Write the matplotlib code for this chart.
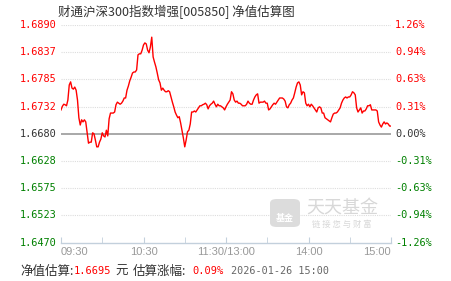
import matplotlib
matplotlib.use("Agg")
import matplotlib.pyplot as plt
from matplotlib.patches import FancyBboxPatch

plt.rcParams['font.family'] = ['Noto Sans CJK SC', 'DejaVu Sans']

title = "财通沪深300指数增强[005850] 净值估算图"
base_nav = 1.6680
est_nav = "1.6695"
est_pct = "0.09%"
stamp = "2026-01-26 15:00"

# 每分钟估算净值 (09:30 - 15:00, 共241个点)
nav = [
    1.6726, 1.6733, 1.6737, 1.6736, 1.6734, 1.6745, 1.6774, 1.6780, 1.6768, 1.6766,
    1.6770, 1.6764, 1.6745, 1.6711, 1.6697, 1.6707, 1.6703, 1.6707, 1.6703, 1.6682,
    1.6662, 1.6664, 1.6664, 1.6682, 1.6680, 1.6668, 1.6655, 1.6655, 1.6664, 1.6670,
    1.6682, 1.6676, 1.6674, 1.6687, 1.6676, 1.6709, 1.6720, 1.6720, 1.6720, 1.6722,
    1.6736, 1.6741, 1.6739, 1.6737, 1.6739, 1.6743, 1.6749, 1.6749, 1.6764, 1.6772,
    1.6782, 1.6789, 1.6797, 1.6799, 1.6799, 1.6803, 1.6832, 1.6834, 1.6834, 1.6841,
    1.6851, 1.6855, 1.6853, 1.6841, 1.6836, 1.6847, 1.6866, 1.6828, 1.6818, 1.6809,
    1.6797, 1.6784, 1.6778, 1.6764, 1.6768, 1.6764, 1.6761, 1.6761, 1.6763, 1.6761,
    1.6751, 1.6741, 1.6732, 1.6722, 1.6716, 1.6711, 1.6713, 1.6701, 1.6687, 1.6672,
    1.6655, 1.6668, 1.6684, 1.6687, 1.6699, 1.6722, 1.6722, 1.6724, 1.6722, 1.6726,
    1.6730, 1.6734, 1.6734, 1.6736, 1.6737, 1.6739, 1.6736, 1.6728, 1.6734, 1.6737,
    1.6739, 1.6743, 1.6737, 1.6732, 1.6737, 1.6734, 1.6734, 1.6732, 1.6730, 1.6726,
    1.6732, 1.6737, 1.6741, 1.6745, 1.6761, 1.6757, 1.6745, 1.6741, 1.6743, 1.6739,
    1.6739, 1.6737, 1.6734, 1.6734, 1.6734, 1.6737, 1.6743, 1.6739, 1.6737, 1.6737,
    1.6745, 1.6751, 1.6755, 1.6757, 1.6739, 1.6741, 1.6741, 1.6741, 1.6743, 1.6739,
    1.6739, 1.6726, 1.6728, 1.6732, 1.6736, 1.6739, 1.6737, 1.6741, 1.6745, 1.6749,
    1.6749, 1.6749, 1.6747, 1.6743, 1.6732, 1.6730, 1.6736, 1.6739, 1.6745, 1.6749,
    1.6759, 1.6770, 1.6778, 1.6780, 1.6774, 1.6755, 1.6761, 1.6759, 1.6739, 1.6734,
    1.6737, 1.6732, 1.6737, 1.6734, 1.6730, 1.6726, 1.6722, 1.6730, 1.6732, 1.6730,
    1.6720, 1.6720, 1.6711, 1.6709, 1.6707, 1.6705, 1.6703, 1.6711, 1.6718, 1.6720,
    1.6720, 1.6722, 1.6726, 1.6730, 1.6739, 1.6745, 1.6749, 1.6751, 1.6749, 1.6751,
    1.6751, 1.6755, 1.6761, 1.6759, 1.6755, 1.6730, 1.6722, 1.6726, 1.6730, 1.6720,
    1.6724, 1.6724, 1.6728, 1.6734, 1.6734, 1.6736, 1.6726, 1.6726, 1.6726, 1.6726,
    1.6724, 1.6703, 1.6697, 1.6693, 1.6699, 1.6703, 1.6699, 1.6701, 1.6699, 1.6695,
    1.6695,
]
minutes = list(range(len(nav)))

y_levels = [1.6890, 1.6837, 1.6785, 1.6732, 1.6680, 1.6628, 1.6575, 1.6523, 1.6470]
y_left = ["1.6890", "1.6837", "1.6785", "1.6732", "1.6680", "1.6628", "1.6575", "1.6523", "1.6470"]
y_right = ["1.26%", "0.94%", "0.63%", "0.31%", "0.00%", "-0.31%", "-0.63%", "-0.94%", "-1.26%"]

x_major = [0, 60, 120, 180, 240]
x_minor = [30, 90, 150, 210]
x_labels = ["09:30", "10:30", "11:30/13:00", "14:00", "15:00"]

W, H = 451, 281
fig = plt.figure(figsize=(W / 100, H / 100), dpi=100)
ax = fig.add_axes([61 / W, 1 - 243 / H, 330 / W, (243 - 24.7) / H])

RED = "#ff0000"
GREEN = "#008000"
DARK = "#333333"

# 网格线
for v in y_levels:
    if v == base_nav:
        ax.axhline(v, color="#999999", lw=1.2, zorder=2)
    elif v == y_levels[-1]:
        continue
    else:
        ax.axhline(v, color="#dddddd", lw=0.8, ls=(0, (1, 1)), zorder=1)

ax.plot(minutes, nav, color=RED, lw=1.0, zorder=3)

ax.set_xlim(0, 240)
ax.set_ylim(y_levels[-1], y_levels[0])

for s in ["top", "left", "right"]:
    ax.spines[s].set_visible(False)
ax.spines["bottom"].set_color("#c3d0dc")
ax.spines["bottom"].set_linewidth(1.0)
ax.set_yticks([])
ax.set_xticks(x_major)
ax.set_xticks(x_minor, minor=True)
ax.set_xticklabels(x_labels, fontsize=8, color="#999999", family="Liberation Sans")
ax.tick_params(axis="x", which="both", direction="in", length=4, color="#c3d0dc", pad=3)
tl = ax.get_xticklabels()
tl[0].set_horizontalalignment("left")
tl[-1].set_horizontalalignment("right")

# 左右刻度
trans = ax.get_yaxis_transform()
for v, l, r in zip(y_levels, y_left, y_right):
    if v > base_nav:
        c = RED
    elif v < base_nav:
        c = GREEN
    else:
        c = DARK
    ax.text(-0.012, v, l, transform=trans, ha="right", va="center",
            fontsize=7.4, color=c, family="DejaVu Sans Mono")
    ax.text(1.012, v, r, transform=trans, ha="left", va="center",
            fontsize=7.4, color=c, family="DejaVu Sans Mono")

# 标题
fig.text(58 / W, 1 - 12 / H, title, ha="left", va="center", fontsize=9, color=DARK)

# 水印
logo = FancyBboxPatch((270 / W, 1 - 227 / H), 30 / W, 28 / H,
                      boxstyle="round,pad=0,rounding_size=0.015",
                      transform=fig.transFigure, facecolor="#dcdcdc",
                      edgecolor="none", zorder=0)
fig.patches.append(logo)
fig.text(285 / W, 1 - 218 / H, "基金", ha="center", va="center", fontsize=6.5,
         color="white", weight="bold")
fig.text(342 / W, 1 - 208 / H, "天天基金", ha="center", va="center", fontsize=13,
         color="#d8d8d8", family="Noto Sans CJK SC")
fig.text(342 / W, 1 - 224 / H, "链 接 您 与 财 富", ha="center", va="center",
         fontsize=6, color="#d8d8d8")

# 底部说明
yb = 1 - 271 / H
fig.text(20 / W, yb, "净值估算:", ha="left", va="center", fontsize=9, color=DARK)
fig.text(74 / W, yb, est_nav, ha="left", va="center", fontsize=7.5, color=RED,
         family="DejaVu Sans Mono")
fig.text(115 / W, yb, "元", ha="left", va="center", fontsize=9, color=DARK)
fig.text(133 / W, yb, "估算涨幅:", ha="left", va="center", fontsize=9, color=DARK)
fig.text(192 / W, yb, est_pct, ha="left", va="center", fontsize=7.5, color=RED,
         family="DejaVu Sans Mono")
fig.text(231 / W, yb, stamp, ha="left", va="center", fontsize=7.3, color="#666666",
         family="DejaVu Sans Mono")

fig.savefig("out.png", dpi=100)
